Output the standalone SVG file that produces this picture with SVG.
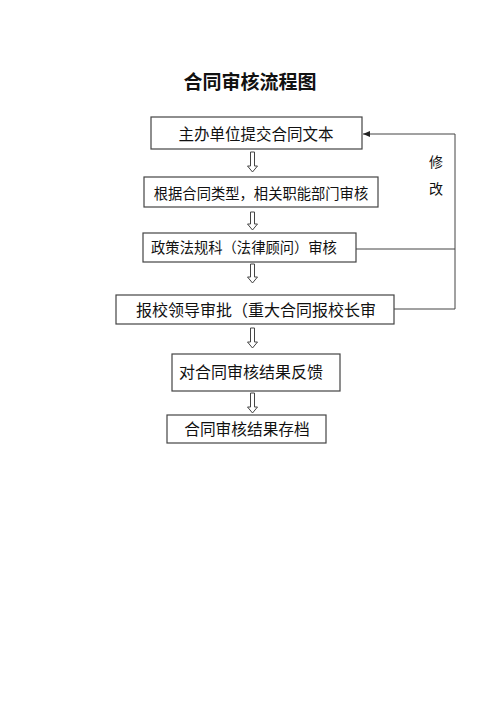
<svg xmlns="http://www.w3.org/2000/svg" width="500" height="707" viewBox="0 0 500 707">
<style>
.box{fill:#fff;stroke:#444;stroke-width:1.2}
.t{font-family:"Noto Sans CJK SC","Noto Sans",sans-serif;fill:#111}
.title{font-family:"Noto Sans CJK SC",serif;font-weight:bold;font-size:19px;fill:#111}
.harrow{fill:#fff;stroke:#444;stroke-width:1}
.ln{fill:none;stroke:#444;stroke-width:1}
</style>
<defs>
<marker id="ah" markerWidth="8" markerHeight="6" refX="7" refY="3" orient="auto" markerUnits="userSpaceOnUse">
<path d="M0,0 L7,3 L0,6 Z" fill="#222"/>
</marker>
</defs>
<rect width="500" height="707" fill="#fff"/>
<text class="title" x="250" y="89" text-anchor="middle">合同审核流程图</text>
<g id="n1"><rect class="box" x="151" y="117" width="211" height="32"/><text class="t" x="256" y="139.5" font-size="15.5" text-anchor="middle">主办单位提交合同文本</text></g>
<g id="n2"><rect class="box" x="144" y="177" width="234" height="30"/><text class="t" x="261" y="199" font-size="14.3" text-anchor="middle">根据合同类型，相关职能部门审核</text></g>
<g id="n3"><rect class="box" x="143" y="233" width="213" height="29"/><text class="t" x="244" y="252.5" font-size="14.3" text-anchor="middle">政策法规科（法律顾问）审核</text></g>
<g id="n4"><rect class="box" x="116" y="295" width="278" height="29"/><text class="t" x="256" y="316" font-size="16" text-anchor="middle">报校领导审批（重大合同报校长审</text></g>
<g id="n5"><rect class="box" x="172" y="354" width="168" height="37"/><text class="t" x="251" y="378" font-size="16" text-anchor="middle">对合同审核结果反馈</text></g>
<g id="n6"><rect class="box" x="167" y="415" width="159" height="28"/><text class="t" x="247" y="435" font-size="15.7" text-anchor="middle">合同审核结果存档</text></g>
<g id="connectors">
<polygon class="harrow" points="250.5,152 254.5,152 254.5,166 257.5,166 252.5,172 247.5,166 250.5,166"/>
<polygon class="harrow" points="250.5,212 254.5,212 254.5,224 257.5,224 252.5,230 247.5,224 250.5,224"/>
<polygon class="harrow" points="250.5,264 254.5,264 254.5,277 257.5,277 252.5,283 247.5,277 250.5,277"/>
<polygon class="harrow" points="250.5,328 254.5,328 254.5,342 257.5,342 252.5,348 247.5,342 250.5,342"/>
<polygon class="harrow" points="250.5,393 254.5,393 254.5,407 257.5,407 252.5,413 247.5,407 250.5,407"/>
<line class="ln" x1="356" y1="249" x2="455" y2="249"/>
<line class="ln" x1="394" y1="309" x2="455" y2="309"/>
<line class="ln" x1="455" y1="309" x2="455" y2="134"/>
<line class="ln" x1="455" y1="134" x2="363" y2="134" marker-end="url(#ah)"/>
</g>
<text class="t" x="436" y="167" font-size="14" text-anchor="middle">修</text>
<text class="t" x="436" y="194" font-size="14" text-anchor="middle">改</text>
</svg>
